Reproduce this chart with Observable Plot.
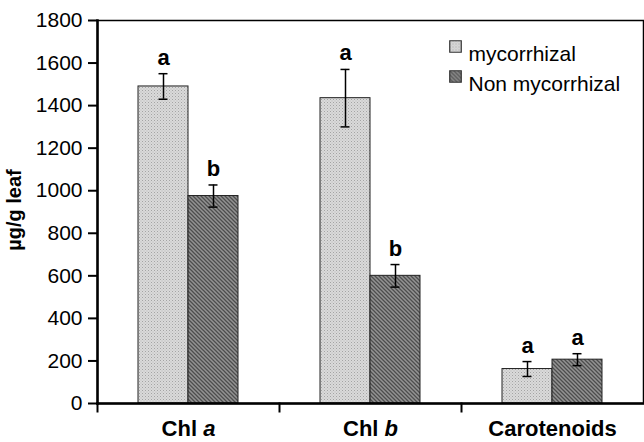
<!DOCTYPE html>
<html>
<head>
<meta charset="utf-8">
<script src="https://cdn.jsdelivr.net/npm/d3@7"></script>
<script src="https://cdn.jsdelivr.net/npm/@observablehq/plot@0.6"></script>
<style>
  body { margin: 0; background: #fff; }
  #chart { width: 644px; height: 442px; }
</style>
</head>
<body>
<div id="chart"></div>
<script>
const categories = ["Chl a", "Chl b", "Carotenoids"];
const series = ["mycorrhizal", "Non mycorrhizal"];
const valuesMyc = [1490, 1435, 162];
const valuesNon = [975, 600, 206];
const errMyc = [60, 135, 35];
const errNon = [52, 53, 28];
const lettersMyc = ["a", "a", "a"];
const lettersNon = ["b", "b", "a"];
const yTicks = [0, 200, 400, 600, 800, 1000, 1200, 1400, 1600, 1800];
const yLabel = "µg/g leaf";

const fills = {"mycorrhizal": "url(#pLight)", "Non mycorrhizal": "url(#pDark)"};

const data = [];
categories.forEach((c, i) => {
  data.push({cat: c, series: series[0], value: valuesMyc[i], err: errMyc[i], letter: lettersMyc[i]});
  data.push({cat: c, series: series[1], value: valuesNon[i], err: errNon[i], letter: lettersNon[i]});
});

const font = "'Liberation Sans', Arial, Helvetica, sans-serif";

const chart = Plot.plot({
  width: 644,
  height: 442,
  marginLeft: 96,
  marginRight: 1,
  marginTop: 20,
  marginBottom: 39,
  style: {fontFamily: font, color: "#000", background: "#fff"},
  fx: {domain: categories, padding: 0},
  x: {domain: series, paddingInner: 0, paddingOuter: 0.79, axis: null},
  y: {domain: [0, 1800]},
  marks: [
    ...series.map(s => Plot.barY(data.filter(d => d.series === s), {
      fx: "cat", x: "series", y: "value", fill: fills[s], stroke: "#222", strokeWidth: 1
    })),
    Plot.ruleX(data, {fx: "cat", x: "series", y1: d => d.value - d.err, y2: d => d.value + d.err, stroke: "#000", strokeWidth: 1.5}),
    Plot.tickY(data, {fx: "cat", x: "series", y: d => d.value - d.err, stroke: "#000", strokeWidth: 1.5, insetLeft: 20.5, insetRight: 20.5}),
    Plot.tickY(data, {fx: "cat", x: "series", y: d => d.value + d.err, stroke: "#000", strokeWidth: 1.5, insetLeft: 20.5, insetRight: 20.5}),
    Plot.text(data, {fx: "cat", x: "series", y: d => d.value + d.err, text: "letter", lineAnchor: "bottom", dy: -9, fontSize: 22, fontWeight: "bold", fill: "#000"}),
    Plot.frame({anchor: "left", insetTop: 383, insetBottom: -8, stroke: "#000", strokeWidth: 2}),
    Plot.frame({facet: "super", stroke: "#000", strokeWidth: 1.5}),
    Plot.frame({facet: "super", anchor: "left", stroke: "#000", strokeWidth: 2.5}),
    Plot.frame({facet: "super", anchor: "bottom", stroke: "#000", strokeWidth: 2.5}),
    Plot.axisY({ticks: yTicks, tickFormat: d => String(d), tickSize: 9, tickPadding: 6, fontSize: 21, label: null, strokeWidth: 2}),
    Plot.axisFx({anchor: "bottom", tickSize: 0, tickPadding: 17, fontSize: 22, fontWeight: "bold", label: null}),
    Plot.text([yLabel], {facet: "super", frameAnchor: "left", textAnchor: "middle", rotate: -90, dx: -83, dy: -2, fontSize: 20, fontWeight: "bold", fill: "#000"}),
    ...series.map((s, i) => Plot.dot([s], {facet: "super", frameAnchor: "top-right", dx: -188, dy: 26 + 30 * i, symbol: "square", r: 6.5, fill: fills[s], stroke: "#333", strokeWidth: 1.2})),
    ...series.map((s, i) => Plot.text([s], {facet: "super", frameAnchor: "top-right", dx: -175, dy: 26 + 30 * i, text: d => d, textAnchor: "start", fontSize: 21, fill: "#000"}))
  ]
});

chart.insertAdjacentHTML("afterbegin", `
<defs>
  <pattern id="pLight" width="3" height="3" patternUnits="userSpaceOnUse">
    <rect width="3" height="3" fill="#dadada"/>
    <rect x="0" y="0" width="1" height="1" fill="#a4a4a4"/>
    <rect x="1.5" y="1.5" width="1" height="1" fill="#b6b6b6"/>
  </pattern>
  <pattern id="pDark" width="4" height="4" patternUnits="userSpaceOnUse">
    <rect width="4" height="4" fill="#939393"/>
    <path d="M-1,-1 L5,5 M-1,3 L1,5 M3,-1 L5,1" stroke="#4e4e4e" stroke-width="1.3"/>
  </pattern>
</defs>`);

chart.querySelectorAll("text").forEach(t => {
  const m = t.textContent.match(/^Chl ([ab])$/);
  if (m) {
    const target = t.querySelector("tspan") || t;
    target.innerHTML = `Chl <tspan font-style="italic">${m[1]}</tspan>`;
  }
});

document.getElementById("chart").appendChild(chart);
</script>
</body>
</html>
